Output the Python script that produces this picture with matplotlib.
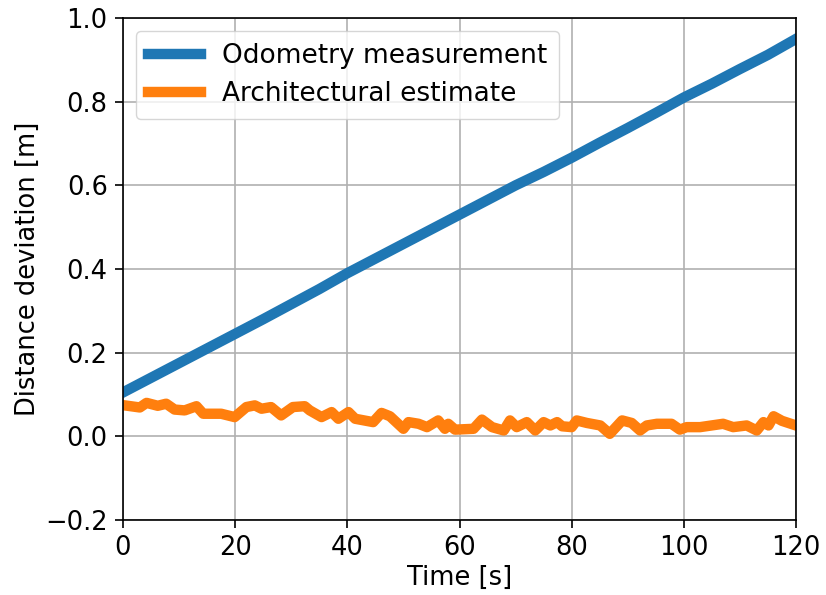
import matplotlib
matplotlib.use("Agg")
import matplotlib.pyplot as plt

# Odometry drift over time
odom_t = [0, 5, 10, 15, 20, 25, 30, 35, 40, 45, 50, 55, 60, 65, 70, 75, 80,
          85, 90, 95, 100, 105, 110, 115, 120]
odom_d = [0.105, 0.140, 0.175, 0.210, 0.245, 0.280, 0.316, 0.352, 0.390,
          0.425, 0.460, 0.495, 0.530, 0.565, 0.600, 0.632, 0.666, 0.702,
          0.737, 0.773, 0.810, 0.843, 0.878, 0.912, 0.950]

# Architectural estimate of the deviation
arch_t = [0.3, 3, 4.2, 6.2, 7.7, 9.2, 11, 13.1, 14.3, 17.5, 19.9, 22, 23.5,
          24.7, 26.4, 28.2, 30.3, 32.4, 33.3, 35.4, 37.2, 38.4, 40.2, 41.4,
          44.6, 46.1, 47.6, 50, 50.9, 52.7, 54.2, 56.2, 57.4, 58, 59.2, 62.5,
          64, 65.8, 67.9, 69, 70.2, 72, 73.5, 75, 76.2, 77.4, 78.3, 80, 80.9,
          82.7, 85.1, 86.8, 89, 90.7, 92.2, 93.4, 95.2, 97.8, 99.3, 100.5,
          102.9, 107, 108.8, 111.2, 113, 114.2, 115.1, 116, 117.5, 120]
arch_d = [0.074, 0.069, 0.080, 0.073, 0.078, 0.064, 0.062, 0.072, 0.054,
          0.054, 0.046, 0.070, 0.074, 0.066, 0.070, 0.050, 0.070, 0.072,
          0.062, 0.046, 0.058, 0.042, 0.058, 0.042, 0.034, 0.056, 0.048,
          0.018, 0.034, 0.030, 0.022, 0.038, 0.018, 0.030, 0.016, 0.018,
          0.040, 0.022, 0.014, 0.038, 0.022, 0.034, 0.014, 0.034, 0.026,
          0.034, 0.024, 0.022, 0.038, 0.032, 0.026, 0.006, 0.038, 0.032,
          0.014, 0.026, 0.030, 0.030, 0.016, 0.022, 0.022, 0.030, 0.022,
          0.026, 0.014, 0.034, 0.026, 0.048, 0.037, 0.026]

fig = plt.figure(figsize=(8.26, 5.95), dpi=100)
ax = fig.add_axes([123 / 826, 1 - 520 / 595, (796 - 123) / 826, (520 - 18) / 595])

ax.plot(odom_t, odom_d, color="#1f77b4", lw=7.5, label="Odometry measurement")
ax.plot(arch_t, arch_d, color="#ff7f0e", lw=7.5, label="Architectural estimate")

ax.set_xlim(0, 120)
ax.set_ylim(-0.2, 1.0)
ax.set_xticks([0, 20, 40, 60, 80, 100, 120])
ax.set_yticks([-0.2, 0.0, 0.2, 0.4, 0.6, 0.8, 1.0])
ax.grid(True, color="#b0b0b0", lw=1.2)
ax.tick_params(labelsize=18.5, length=6, width=1.2, pad=5)
for s in ax.spines.values():
    s.set_linewidth(1.2)
ax.set_xlabel("Time [s]", fontsize=18.5, labelpad=3)
ax.set_ylabel("Distance deviation [m]", fontsize=18.5, labelpad=3)
ax.legend(loc="upper left", fontsize=19, handlelength=2.0, framealpha=0.8,
          borderaxespad=0.5, borderpad=0.45, labelspacing=0.45)

fig.savefig("out.png", dpi=100)
